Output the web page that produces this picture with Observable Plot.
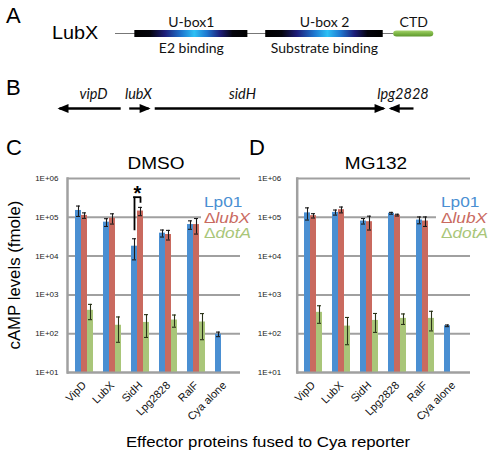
<!DOCTYPE html>
<html><head><meta charset="utf-8">
<script src="https://cdn.jsdelivr.net/npm/d3@7"></script>
<script src="https://cdn.jsdelivr.net/npm/@observablehq/plot@0.6"></script>
<style>
body{margin:0;background:#fff;}
#fig{position:relative;width:489px;height:455px;overflow:hidden;background:#fff;font-family:"Liberation Sans",Arial,sans-serif;}
.pane{position:absolute;}
</style></head><body><div id="fig"></div>
<script>
// ---------- data ----------
const categories = ["VipD", "LubX", "SidH", "Lpg2828", "RalF", "Cya alone"];
const seriesNames = ["Lp01", "ΔlubX", "ΔdotA"];
const seriesColors = ["#4a8fd2", "#c96a5f", "#a9c679"];
const yTickValues = [1e1, 1e2, 1e3, 1e4, 1e5, 1e6];
const yTickLabels = ["1E+01", "1E+02", "1E+03", "1E+04", "1E+05", "1E+06"];

// Panel C (DMSO)
const dmsoLp01    = [1.5e5, 7.5e4, 1.8e4, 3.9e4, 6.5e4, 97];
const dmsoLp01Err = [4.5e4, 1.7e4, 1.0e4, 0.8e4, 1.6e4, 13];
const dmsoLubX    = [1.12e5, 9.5e4, 1.45e5, 3.6e4, 6.5e4, null];
const dmsoLubXErr = [1.8e4, 2.8e4, 3.5e4, 1.0e4, 2.8e4, null];
const dmsoDotA    = [400, 165, 195, 225, 200, null];
const dmsoDotAErr = [170, 105, 115, 78, 130, null];

// Panel D (MG132)
const mg132Lp01    = [1.3e5, 1.34e5, 8.0e4, 1.27e5, 8.5e4, 160];
const mg132Lp01Err = [4.5e4, 2.0e4, 1.3e4, 0.7e4, 1.7e4, 8];
const mg132LubX    = [1.1e5, 1.57e5, 7.7e4, 1.14e5, 8.0e4, null];
const mg132LubXErr = [1.4e4, 2.7e4, 3.0e4, 0.6e4, 2.2e4, null];
const mg132DotA    = [355, 157, 220, 248, 248, null];
const mg132DotAErr = [170, 105, 112, 75, 130, null];

// significance bracket (panel C)
const sigCategory = "SidH";
const sigLeftBottom = 4.5e4;
const sigRightBottom = 2.3e5;
const sigTop = 3.3e5;
const sigStar = 4.2e5;

// Panel A: LubX domains (residues)
const proteinLength = 215;
const domainNames = ["U-box1", "U-box 2", "CTD"];
const domainFunctions = ["E2 binding", "Substrate binding", ""];
const domainStart = [14, 102, 188];
const domainEnd = [90, 181, 215];

// Panel B: gene neighbourhood (kb)
const geneNames = ["vipD", "lubX", "sidH", "lpg2828"];
const geneTail = [1.8, 2.05, 2.8, 10.41];
const geneTip = [0, 2.62, 9.53, 9.74];
const geneLabelAt = [1.0, 2.32, 5.38, 10.1];

// ---------- helpers ----------
const fig = document.getElementById("fig");
const gridColor = "#a0a0a0";
function place(node, left, top) {
  const d = document.createElement("div");
  d.className = "pane";
  d.style.left = left + "px";
  d.style.top = top + "px";
  d.appendChild(node);
  fig.appendChild(d);
}

function defsMark() {
  const defs = d3.create("svg:defs");
  const g1 = defs.append("linearGradient").attr("id", "uboxGrad")
    .attr("x1", 0).attr("x2", 1).attr("y1", 0).attr("y2", 0);
  [[0, "#000"], [0.14, "#04040c"], [0.27, "#1d1d78"], [0.42, "#1e78d0"], [0.53, "#2cc0f5"], [0.64, "#1e78d0"], [0.76, "#1d1d78"], [0.87, "#04040c"], [1, "#000"]]
    .forEach(([o, c]) => g1.append("stop").attr("offset", o).attr("stop-color", c));
  const g2 = defs.append("linearGradient").attr("id", "ctdGrad")
    .attr("x1", 0).attr("x2", 0).attr("y1", 0).attr("y2", 1);
  [[0, "#a6d36e"], [0.5, "#7db645"], [1, "#5e972e"]]
    .forEach(([o, c]) => g2.append("stop").attr("offset", o).attr("stop-color", c));
  return defs.node();
}

// ---------- Panel A ----------
const aRows = domainNames.map((n, i) => ({
  name: n, fn: domainFunctions[i], start: domainStart[i], end: domainEnd[i],
  mid: (domainStart[i] + domainEnd[i]) / 2
}));
const plotA = Plot.plot({
  width: 489, height: 62, marginLeft: 115, marginRight: 55.7, marginTop: 30, marginBottom: 25,
  x: {domain: [1, proteinLength], axis: null},
  style: {fontFamily: "Lato, 'Open Sans', sans-serif", background: "transparent", overflow: "visible", color: "#000"},
  marks: [
    defsMark,
    Plot.barX([{s: 1, e: domainStart[2]}], {x1: "s", x2: "e", fill: "#777", insetTop: 3, insetBottom: 3}),
    Plot.barX(aRows.slice(0, 2), {x1: "start", x2: "end", fill: "url(#uboxGrad)"}),
    Plot.barX(aRows.slice(2), {x1: "start", x2: "end", fill: "url(#ctdGrad)", rx: 3.5, insetTop: 0.5, insetBottom: 0.5}),
    Plot.text(aRows, {x: "mid", text: "name", dy: -11, fontSize: 14, fill: "#111"}),
    Plot.text(aRows, {x: "mid", text: "fn", dy: 15, fontSize: 14, fill: "#111"})
  ]
});
place(plotA, 0, 0);

// ---------- Panel B ----------
const genes = geneNames.map((n, i) => ({name: n, tail: geneTail[i], tip: geneTip[i], label: geneLabelAt[i], fwd: geneTip[i] > geneTail[i]}));
const headRight = {draw(ctx) { ctx.moveTo(2, 0); ctx.lineTo(-9, -4.6); ctx.lineTo(-9, 4.6); ctx.closePath(); }};
const headLeft = {draw(ctx) { ctx.moveTo(-2, 0); ctx.lineTo(9, -4.6); ctx.lineTo(9, 4.6); ctx.closePath(); }};
const plotB = Plot.plot({
  width: 489, height: 56, marginLeft: 59, marginRight: 76, marginTop: 20, marginBottom: 20,
  x: {domain: [0, 10.41], axis: null},
  y: {domain: [0, 1], axis: null},
  style: {fontFamily: "Lato, 'Open Sans', sans-serif", background: "transparent", overflow: "visible", color: "#000"},
  marks: [
    Plot.link(genes, {x1: "tail", x2: "tip", y1: 0.5, y2: 0.5, stroke: "#000", strokeWidth: 2.3}),
    Plot.dot(genes.filter(g => g.fwd), {x: "tip", y: 0.5, symbol: headRight, fill: "#000", stroke: "none"}),
    Plot.dot(genes.filter(g => !g.fwd), {x: "tip", y: 0.5, symbol: headLeft, fill: "#000", stroke: "none"}),
    Plot.text(genes, {x: "label", y: 0.5, text: "name", dy: -14, fontSize: 14.5, fontStyle: "italic", fill: "#111"})
  ]
});
place(plotB, 0, 80);

// ---------- Panels C, D ----------
function barChart(vals, errs, {width, marginLeft, marginRight, tickPadding, extra = []}) {
  const rows = [];
  seriesNames.forEach((s, si) => categories.forEach((c, ci) => {
    const v = vals[si][ci];
    if (v != null) rows.push({cat: c, si, v, e: errs[si][ci]});
  }));
  const bw = 6;
  const marks = [Plot.ruleY(yTickValues, {stroke: gridColor, strokeWidth: 2})];
  seriesNames.forEach((s, si) => {
    const d = rows.filter(r => r.si === si);
    marks.push(Plot.barY(d, {x: "cat", y1: yTickValues[0], y2: "v", fill: seriesColors[si], dx: (si - 1) * bw}));
  });
  marks.push(Plot.ruleY([yTickValues[0]], {stroke: gridColor, strokeWidth: 2}));
  marks.push(Plot.frame({anchor: "left", stroke: gridColor, strokeWidth: 2.5}));
  seriesNames.forEach((s, si) => {
    const d = rows.filter(r => r.si === si);
    const dx = (si - 1) * bw;
    const sc = si === 2 ? "#2a3318" : "#1a1a1a";
    marks.push(Plot.ruleX(d, {x: "cat", y1: r => r.v - r.e, y2: r => r.v + r.e, dx, stroke: sc, strokeWidth: 1.1}));
    marks.push(Plot.tickY(d, {x: "cat", y: r => r.v + r.e, dx, stroke: sc, strokeWidth: 1.1, insetLeft: 1, insetRight: 1}));
    marks.push(Plot.tickY(d, {x: "cat", y: r => r.v - r.e, dx, stroke: sc, strokeWidth: 1.1, insetLeft: 1, insetRight: 1}));
  });
  marks.push(Plot.axisY(yTickValues, {tickFormat: d => yTickLabels[yTickValues.indexOf(d)], tickSize: 0, tickPadding, fontSize: 8, label: null, fill: "#222"}));
  marks.push(Plot.axisX({tickRotate: -45, tickSize: 0, tickPadding: 11, fontSize: 11, label: null, fill: "#111"}));
  marks.push(...extra);
  return Plot.plot({
    width, height: 315, marginLeft, marginRight, marginTop: 38, marginBottom: 83,
    x: {domain: categories, type: "band", paddingInner: 0.792, paddingOuter: 0.396, align: 0.5},
    y: {type: "log", domain: [yTickValues[0], yTickValues[yTickValues.length - 1]]},
    style: {fontFamily: "'Liberation Sans', Arial, sans-serif", background: "transparent", overflow: "visible", color: "#000"},
    marks
  });
}

const sig = [{cat: sigCategory, lo1: sigLeftBottom, lo2: sigRightBottom, top: sigTop, star: sigStar}];
const sigMarks = [
  Plot.ruleX(sig, {x: "cat", y1: "lo1", y2: "top", dx: -6, stroke: "#000", strokeWidth: 1.8}),
  Plot.ruleX(sig, {x: "cat", y1: "lo2", y2: "top", dx: 0, stroke: "#000", strokeWidth: 1.8}),
  Plot.tickY(sig, {x: "cat", y: "top", dx: -3, stroke: "#000", strokeWidth: 1.8, strokeLinecap: "square"}),
  Plot.text(sig, {x: "cat", y: "star", text: () => "*", dx: -3, fontSize: 20, fontWeight: "bold", fill: "#000"})
];

const plotC = barChart([dmsoLp01, dmsoLubX, dmsoDotA], [dmsoLp01Err, dmsoLubXErr, dmsoDotAErr],
  {width: 240, marginLeft: 67, marginRight: 0, tickPadding: 9, extra: sigMarks});
place(plotC, 0, 140);
const plotD = barChart([mg132Lp01, mg132LubX, mg132DotA], [mg132Lp01Err, mg132LubXErr, mg132DotAErr],
  {width: 249, marginLeft: 56.7, marginRight: 19, tickPadding: 16});
place(plotD, 240, 140);

// ---------- text overlay ----------
const ov = d3.select(fig).append("svg").attr("class", "pane")
  .attr("width", 489).attr("height", 455).style("left", 0).style("top", 0)
  .style("pointer-events", "none").style("font-family", "'Liberation Sans', Arial, sans-serif");
function txt(x, y, parts, {size = 14, anchor = "start", sx = 1, rotate = 0, color = "#000"} = {}) {
  const t = ov.append("text")
    .attr("transform", `translate(${x},${y}) rotate(${rotate}) scale(${sx},1)`)
    .attr("text-anchor", anchor).attr("font-size", size).attr("fill", color);
  (Array.isArray(parts) ? parts : [[parts, false]]).forEach(([s, it]) => {
    t.append("tspan").text(s).attr("font-style", it ? "italic" : "normal");
  });
  return t;
}
txt(6, 23, "A", {size: 22});
txt(6, 95, "B", {size: 22});
txt(6, 155, "C", {size: 22});
txt(249, 155, "D", {size: 22});
txt(52, 38.5, "LubX", {size: 18, sx: 1.1});
txt(156, 169, "DMSO", {size: 17, anchor: "middle", sx: 1.12});
txt(376, 169, "MG132", {size: 17, anchor: "middle", sx: 1.12});
txt(20, 275, "cAMP levels (fmole)", {size: 16, anchor: "middle", rotate: -90, sx: 1.05});
txt(268, 447, "Effector proteins fused to Cya reporter", {size: 15, anchor: "middle", sx: 1.12});

// legends (white box hides the grid line behind the legend, as in the original)
function legend(x, boxX, boxW) {
  ov.append("rect").attr("x", boxX).attr("y", 194).attr("width", boxW).attr("height", 46).attr("fill", "#fff");
  const base = [207, 222.5, 238];
  txt(x, base[0], [["Lp01", false]], {size: 15, sx: 1.15, color: seriesColors[0]});
  txt(x, base[1], [["Δ", false], ["lubX", true]], {size: 15, sx: 1.15, color: seriesColors[1]});
  txt(x, base[2], [["Δ", false], ["dotA", true]], {size: 15, sx: 1.15, color: seriesColors[2]});
}
legend(204, 201, 50);
legend(441, 436, 53);
</script>
</body></html>
